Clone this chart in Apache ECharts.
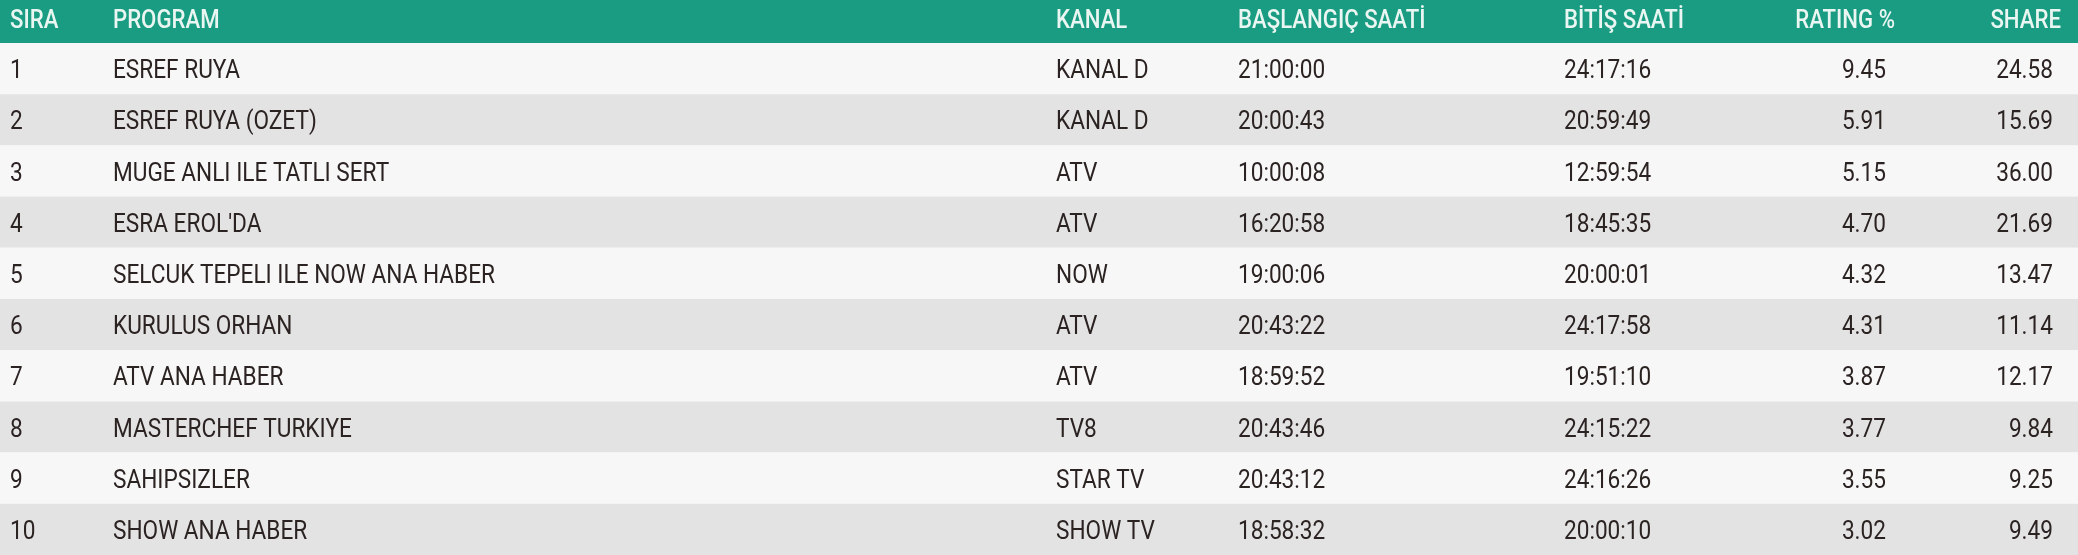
<!DOCTYPE html>
<html><head><meta charset="utf-8">
<script src="https://cdn.jsdelivr.net/npm/echarts@6/dist/echarts.min.js"></script>
<style>html,body{margin:0;padding:0;background:#fff}#main{width:2078px;height:555px}</style>
</head><body><div id="main"></div>
<script>
const headers = ["SIRA", "PROGRAM", "KANAL", "BAŞLANGIÇ SAATİ", "BİTİŞ SAATİ", "RATING %", "SHARE"];
const ranks = ["1", "2", "3", "4", "5", "6", "7", "8", "9", "10"];
const programs = ["ESREF RUYA", "ESREF RUYA (OZET)", "MUGE ANLI ILE TATLI SERT", "ESRA EROL'DA",
  "SELCUK TEPELI ILE NOW ANA HABER", "KURULUS ORHAN", "ATV ANA HABER", "MASTERCHEF TURKIYE",
  "SAHIPSIZLER", "SHOW ANA HABER"];
const channels = ["KANAL D", "KANAL D", "ATV", "ATV", "NOW", "ATV", "ATV", "TV8", "STAR TV", "SHOW TV"];
const starts = ["21:00:00", "20:00:43", "10:00:08", "16:20:58", "19:00:06", "20:43:22", "18:59:52", "20:43:46", "20:43:12", "18:58:32"];
const ends = ["24:17:16", "20:59:49", "12:59:54", "18:45:35", "20:00:01", "24:17:58", "19:51:10", "24:15:22", "24:16:26", "20:00:10"];
const ratings = ["9.45", "5.91", "5.15", "4.70", "4.32", "4.31", "3.87", "3.77", "3.55", "3.02"];
const shares = ["24.58", "15.69", "36.00", "21.69", "13.47", "11.14", "12.17", "9.84", "9.25", "9.49"];

const FONT = 'Roboto, sans-serif';
const SX = 0.87; // squeeze to look condensed
// column x, alignment
const cols = [[10, 'left'], [113, 'left'], [1056, 'left'], [1238, 'left'], [1564, 'left'], [1886, 'right'], [2053, 'right']];
const headCols = [[10, 'left'], [113, 'left'], [1056, 'left'], [1238, 'left'], [1564, 'left'], [1895, 'right'], [2061, 'right']];

const chart = echarts.init(document.getElementById('main'));
chart.setOption({
  animation: false,
  grid: { left: 0, right: 0, top: 43, bottom: 0 },
  xAxis: { type: 'value', min: 0, max: 1, show: false },
  yAxis: { type: 'category', data: ranks, inverse: true, show: false },
  graphic: [
    { type: 'rect', shape: { x: 0, y: 0, width: 2078, height: 43 }, style: { fill: '#1a9c83' } }
  ].concat(headers.map((h, i) => ({
    type: 'text', x: headCols[i][0], y: 22, scaleX: SX,
    style: { text: h, fill: '#eaf6f1', font: '500 25.5px ' + FONT, align: headCols[i][1], verticalAlign: 'middle' }
  }))),
  series: [{
    type: 'custom',
    data: ranks.map((r, i) => [0, i]),
    renderItem: (params, api) => {
      const i = api.value(1);
      const c = api.coord([0, i]);
      const h = api.size([0, 1])[1];
      const row = [ranks[i], programs[i], channels[i], starts[i], ends[i], ratings[i], shares[i]];
      return {
        type: 'group',
        children: [{
          type: 'rect', shape: { x: 0, y: c[1] - h / 2, width: 2078, height: h },
          style: { fill: i % 2 === 0 ? '#f7f7f7' : '#e3e3e3' }
        }].concat(row.map((t, k) => ({
          type: 'text', x: cols[k][0], y: c[1] + 3, scaleX: SX,
          style: { text: t, fill: '#2b2321', font: '26px ' + FONT, align: cols[k][1], verticalAlign: 'middle' }
        })))
      };
    }
  }]
});
</script></body></html>
